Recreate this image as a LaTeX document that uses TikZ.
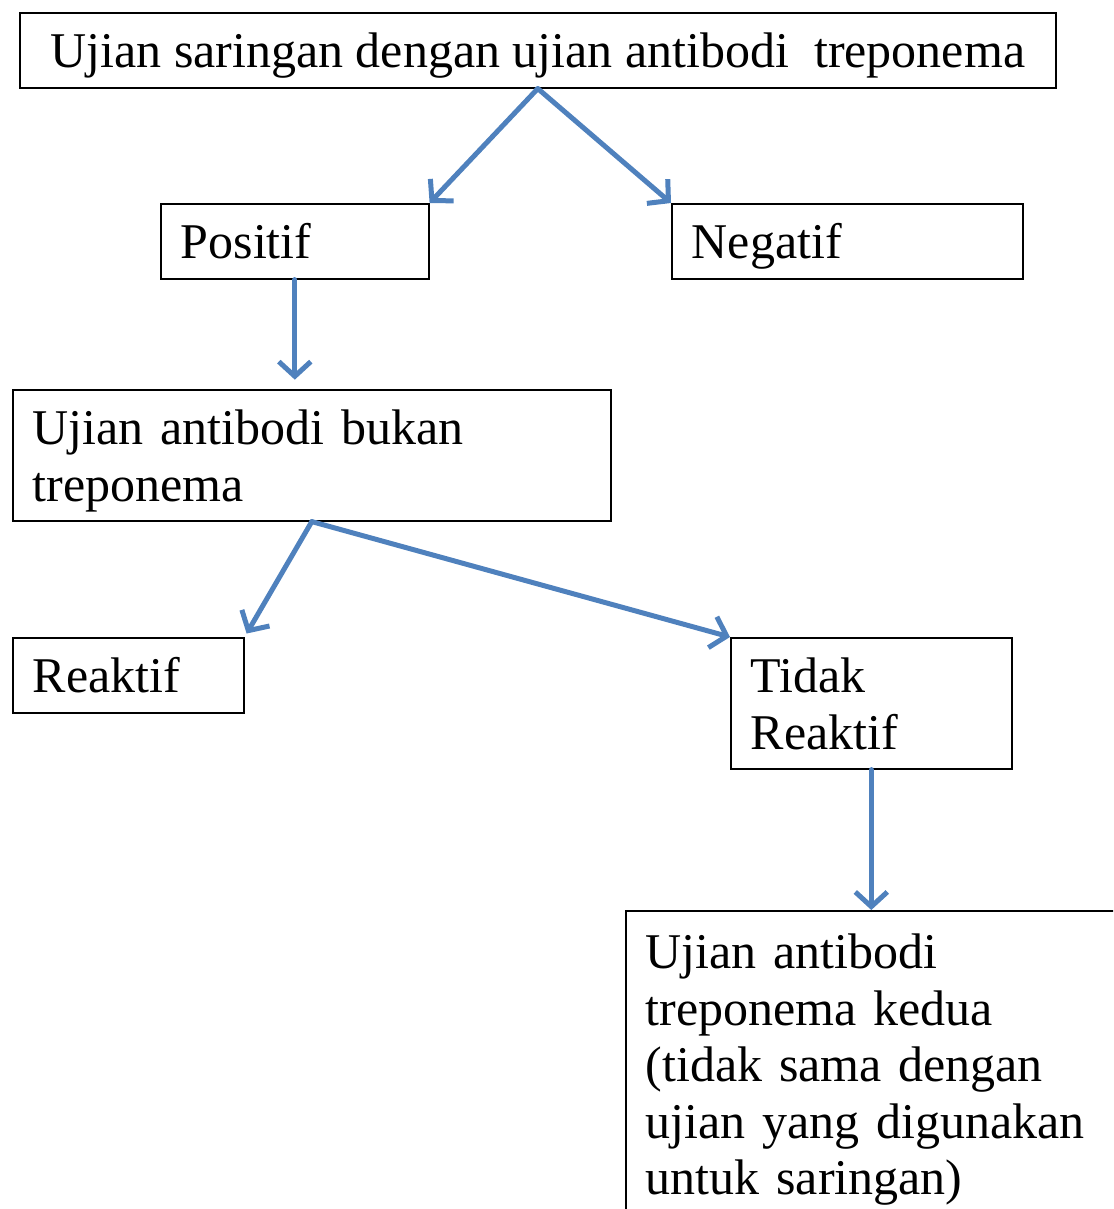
\documentclass[tikz,border=0pt]{standalone}
\usepackage{fontspec}
\setmainfont{Liberation Serif}
\usetikzlibrary{arrows.meta}
\definecolor{arrowblue}{RGB}{79,129,189}

\begin{document}
\begin{tikzpicture}[
    x=0.75pt, y=-0.75pt,
    >={Straight Barb[length=11pt,width=24pt]},
    box/.style={
        draw,
        rectangle,
        anchor=north west,
        line width=1.2pt,
        inner xsep=15pt,
        inner ysep=4pt,
        text height=30pt,
        text depth=3.75pt,
        align=left,
        minimum height=56.25pt,
        font=\fontsize{37.5}{42.4}\selectfont
    },
    twoline/.style={text depth=46.15pt, minimum height=98.25pt},
    arrow/.style={->, line width=3.75pt, arrowblue, line cap=round}
]
\clip (0,0) rectangle (1113,1209);

\node[box, minimum width=777pt, align=center] (screen) at (19,12) {Ujian saringan dengan ujian antibodi\ \ treponema};
\node[box, text width=171pt] (pos) at (160,203) {Positif};
\node[box, text width=233.25pt] (neg) at (671,203) {Negatif};
\node[box, twoline, text width=418.5pt] (nontrep) at (12,389) {Ujian antibodi bukan\\treponema};
\node[box, text width=143.25pt] (reak) at (12,637) {Reaktif};
\node[box, twoline, text width=180.75pt] (nonreak) at (730,637) {Tidak\\Reaktif};
\node[box, text width=420pt, inner ysep=13.5pt, text depth=173.35pt] (second) at (625,910) {Ujian antibodi\\treponema kedua\\(tidak sama dengan\\ujian yang digunakan\\untuk saringan)};

\draw[arrow] (screen.south) -- (pos.north east);
\draw[arrow] (screen.south) -- (neg.north west);
\draw[arrow, shorten >=7pt] (pos.south) -- (pos.south |- nontrep.north);
\draw[arrow, shorten >=3pt] (nontrep.south) -- (reak.north east);
\draw[arrow] (nontrep.south) -- (nonreak.north west);
\draw[arrow] (nonreak.south) -- (nonreak.south |- second.north);

\end{tikzpicture}
\end{document}
